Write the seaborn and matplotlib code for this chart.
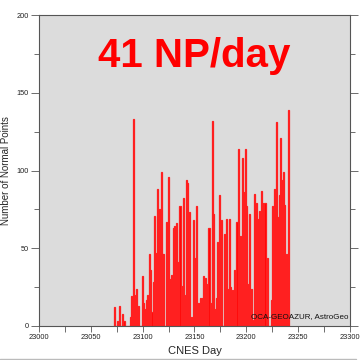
import matplotlib
matplotlib.use("Agg")
import matplotlib.pyplot as plt
import seaborn as sns
import pandas as pd
from matplotlib.ticker import MultipleLocator
from matplotlib.lines import Line2D

days = [23073, 23076, 23078, 23081, 23082, 23088, 23089, 23091, 23092, 23094,
        23096, 23100, 23101, 23102, 23104, 23105, 23107, 23108, 23109, 23110,
        23111, 23113, 23114, 23115, 23116, 23118, 23119, 23120, 23123, 23125,
        23126, 23127, 23128, 23130, 23131, 23133, 23134, 23136, 23137, 23139,
        23141, 23142, 23143, 23145, 23146, 23148, 23149, 23150, 23152, 23153,
        23154, 23156, 23158, 23159, 23161, 23162, 23164, 23165, 23167, 23168,
        23170, 23171, 23172, 23174, 23175, 23176, 23179, 23181, 23182, 23184,
        23185, 23187, 23189, 23190, 23191, 23192, 23194, 23196, 23197, 23199,
        23200, 23202, 23203, 23205, 23206, 23208, 23210, 23211, 23212, 23213,
        23215, 23216, 23217, 23218, 23220, 23224, 23225, 23227, 23229, 23230,
        23232, 23233, 23234, 23236, 23237, 23239, 23241]
points = [12, 3, 13, 8, 3, 6, 19, 133, 20, 24,
          13, 32, 15, 11, 17, 20, 46, 36, 9, 28,
          71, 47, 88, 10, 75, 99, 46, 46, 67, 96,
          30, 28, 33, 63, 64, 66, 41, 77, 26, 82,
          20, 94, 92, 73, 6, 6, 68, 44, 77, 6,
          15, 18, 18, 32, 31, 27, 63, 15, 132, 72,
          11, 18, 54, 84, 30, 68, 59, 69, 24, 69,
          25, 23, 36, 16, 67, 114, 58, 108, 86, 114,
          77, 27, 72, 24, 4, 85, 79, 54, 69, 74,
          87, 79, 55, 79, 44, 17, 77, 88, 131, 70,
          84, 121, 94, 99, 78, 46, 139]

title_text = "41 NP/day"
credit_text = "OCA-GEOAZUR, AstroGeo"
x_label = "CNES Day"
y_label = "Number of Normal Points"

sns.set_style("ticks")
plt.rcParams['font.family'] = ['Liberation Sans', 'DejaVu Sans']

df = pd.DataFrame({"day": days, "np": points})

fig = plt.figure(figsize=(3.61, 3.60), dpi=100)
ax = fig.add_axes([39/361, 1-326/360, 311/361, 311/360])
ax.set_facecolor("#dcdcdc")

sns.histplot(data=df, x="day", weights="np", discrete=True, shrink=1.0,
             color="#ff0000", alpha=1.0, edgecolor="#ff2020", linewidth=0.9, ax=ax)

ax.set_xlim(23000, 23300)
ax.set_ylim(0, 200)
ax.xaxis.set_major_locator(MultipleLocator(50))
ax.xaxis.set_minor_locator(MultipleLocator(25))
ax.yaxis.set_major_locator(MultipleLocator(50))
ax.yaxis.set_minor_locator(MultipleLocator(25))

for s in ax.spines.values():
    s.set_color("#555555")
    s.set_linewidth(0.8)

ax.tick_params(axis="both", which="major", direction="out", length=5.5, width=0.6,
               color="#555555", labelsize=5.3, pad=2, labelcolor="#222222")
ax.tick_params(axis="both", which="minor", direction="out", length=3.5, width=0.6,
               color="#555555")
ax.tick_params(axis="x", which="major", length=4)
ax.tick_params(axis="x", which="minor", length=4)
ax.tick_params(axis="y", which="both", right=True)

ax.set_xlabel(x_label, fontsize=8, labelpad=3)
ax.set_ylabel(y_label, fontsize=7, labelpad=4)

ax.text(0.498, 0.832, title_text, transform=ax.transAxes, ha="center", va="baseline",
        fontsize=29, fontweight="bold", color="#ff0000")
ax.text(0.994, 0.032, credit_text, transform=ax.transAxes, ha="right", va="center",
        fontsize=5.8, color="#111111")

fig.add_artist(Line2D([0, 0.985], [0.003, 0.003], transform=fig.transFigure,
                      color="#bbbbbb", linewidth=1))

fig.savefig("out.png", dpi=100)
